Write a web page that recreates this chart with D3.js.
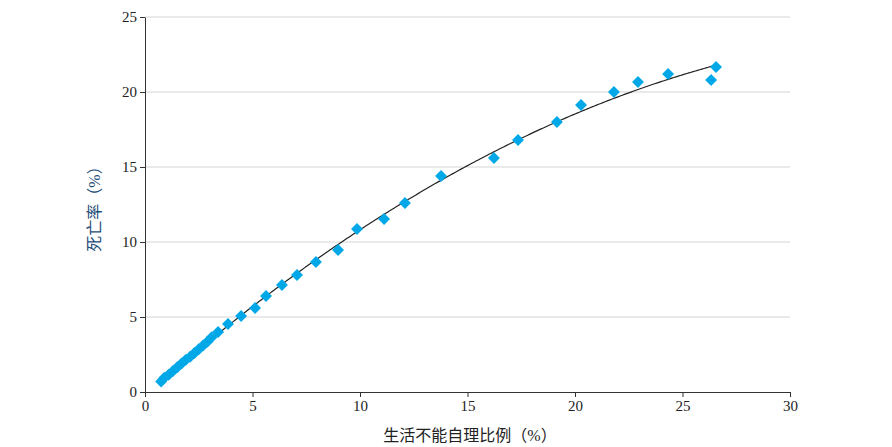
<!DOCTYPE html><html><head><meta charset="utf-8"><script src="https://cdn.jsdelivr.net/npm/d3@7"></script>
<style>body{margin:0;background:#fff}text{font-family:"Liberation Serif","Noto Sans CJK SC",serif}</style></head><body>
<svg id="c" width="892" height="447"></svg>
<script>
const xVals=[0.75,0.9,1.1,1.3,1.5,1.7,1.9,2.1,2.3,2.5,2.7,2.9,3.1,3.4,3.86,4.47,5.12,5.63,6.37,7.07,7.95,8.98,9.86,11.12,12.09,13.77,16.23,17.35,19.16,20.28,21.81,22.93,24.33,26.33,26.56];
const yVals=[0.7,0.95,1.15,1.4,1.65,1.9,2.15,2.35,2.6,2.85,3.1,3.35,3.65,4.0,4.53,5.07,5.6,6.4,7.13,7.8,8.67,9.47,10.87,11.53,12.6,14.4,15.6,16.8,18.0,19.13,20.0,20.67,21.2,20.8,21.67];
const xTicks=[0,5,10,15,20,25,30], yTicks=[0,5,10,15,20,25];
const svg=d3.select("#c");
const x=d3.scaleLinear().domain([0,30]).range([145,790]);
const y=d3.scaleLinear().domain([0,25]).range([392,17]);
svg.append("g").selectAll("line").data(yTicks.slice(1)).join("line")
 .attr("x1",145).attr("x2",790).attr("y1",d=>y(d)).attr("y2",d=>y(d)).attr("stroke","#e3e3e3").attr("stroke-width",1.3);
const gx=svg.append("g").attr("transform","translate(0,392)").call(d3.axisBottom(x).tickValues(xTicks).tickSize(5).tickSizeOuter(0));
const gy=svg.append("g").attr("transform","translate(145,0)").call(d3.axisLeft(y).tickValues(yTicks).tickSize(5).tickSizeOuter(0));
[gx,gy].forEach(g=>{g.selectAll("text").attr("font-size",15).attr("fill","#222");g.selectAll("path,line").attr("stroke","#333");});
const n=xVals.length;let S=[0,0,0,0,0],T=[0,0,0];
for(let i=0;i<n;i++){const a=xVals[i],b=yVals[i];for(let k=0;k<5;k++)S[k]+=a**k;for(let k=0;k<3;k++)T[k]+=b*a**k;}
function solve(A,B){const m=A.map((r,i)=>[...r,B[i]]);for(let i=0;i<3;i++){for(let j=i+1;j<3;j++){const f=m[j][i]/m[i][i];for(let k=i;k<4;k++)m[j][k]-=f*m[i][k];}}const r=[0,0,0];for(let i=2;i>=0;i--){let s=m[i][3];for(let k=i+1;k<3;k++)s-=m[i][k]*r[k];r[i]=s/m[i][i];}return r;}
const c=solve([[S[0],S[1],S[2]],[S[1],S[2],S[3]],[S[2],S[3],S[4]]],T);
const xs=d3.range(0.7,26.6,0.1).concat([26.6]);
svg.append("path").attr("d",d3.line().x(d=>x(d)).y(d=>y(c[0]+c[1]*d+c[2]*d*d))(xs)).attr("fill","none").attr("stroke","#222").attr("stroke-width",1.2);
svg.append("g").selectAll("path").data(xVals.map((v,i)=>[v,yVals[i]])).join("path")
 .attr("d",d3.symbol(d3.symbolDiamond2,90)).attr("transform",d=>`translate(${x(d[0])},${y(d[1])})`).attr("fill","#00a8e8");
svg.append("text").attr("x",470).attr("y",441).attr("text-anchor","middle").attr("font-size",16).attr("fill","#222").text("生活不能自理比例（%）");
svg.append("text").attr("transform","translate(100,205) rotate(-90)").attr("text-anchor","middle").attr("font-size",16).attr("fill","#1f4e79").text("死亡率（%）");
</script></body></html>
